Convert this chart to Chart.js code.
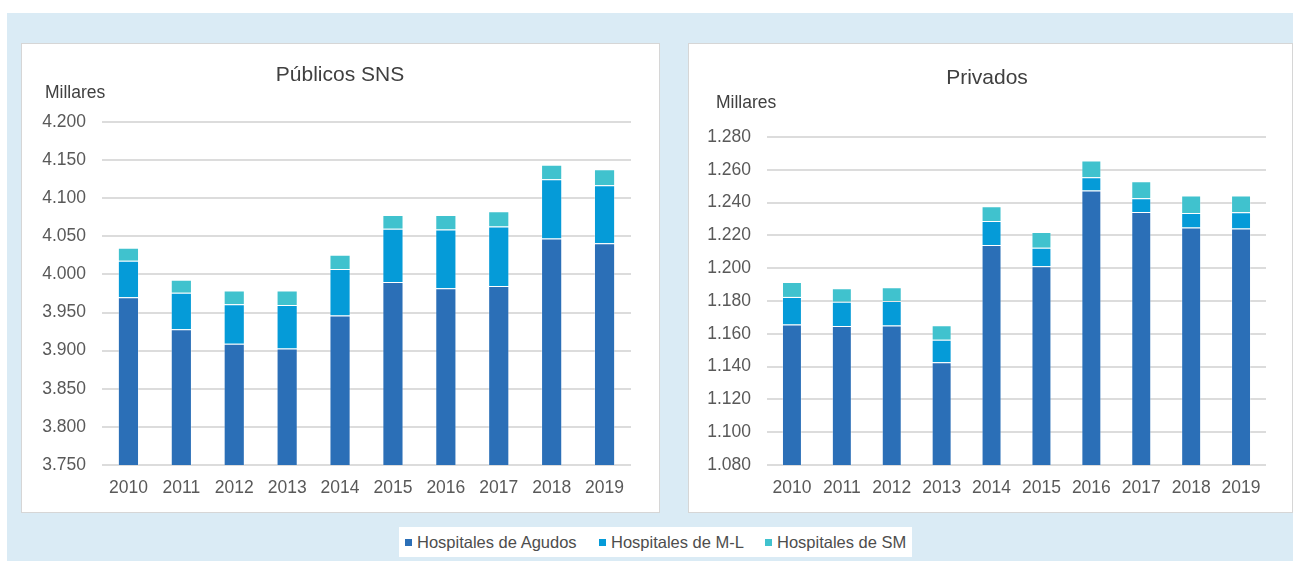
<!DOCTYPE html>
<html>
<head>
<meta charset="utf-8">
<script src="https://cdn.jsdelivr.net/npm/chart.js@4/dist/chart.umd.min.js"></script>
<style>
  html, body { margin: 0; padding: 0; background: #ffffff; }
  body { width: 1293px; height: 561px; position: relative; overflow: hidden; font-family: "Liberation Sans", Arial, sans-serif; }
  #bg { position: absolute; left: 7px; top: 13px; width: 1286px; height: 548px; background: #DAEBF5; }
  .panel { position: absolute; background: #ffffff; border: 1px solid #d6d6d6; box-sizing: border-box; }
  .panel canvas { position: absolute; left: 0; top: 0; }
  #legend { position: absolute; left: 399px; top: 527px; width: 513px; height: 30px; background: #ffffff; }
  .item { position: absolute; top: 0; height: 30px; display: flex; align-items: center; font-size: 16.5px; color: #4d4d4d; white-space: nowrap; }
  .box { width: 7px; height: 7px; margin-right: 5px; }
</style>
</head>
<body>
<div id="bg"></div>
<div class="panel" style="left:21px; top:43px; width:639px; height:470px;"><canvas id="c1" width="637" height="468" style="width:637px;height:468px"></canvas></div>
<div class="panel" style="left:688px; top:43px; width:605px; height:470px;"><canvas id="c2" width="603" height="468" style="width:603px;height:468px"></canvas></div>
<div id="legend"></div>
<script>
// ---- Data ----
const years = ['2010', '2011', '2012', '2013', '2014', '2015', '2016', '2017', '2018', '2019'];
const seriesNames = ['Hospitales de Agudos', 'Hospitales de M-L', 'Hospitales de SM'];
const seriesColors = ['#2B6FB7', '#059BD8', '#40C2CE'];

// Públicos SNS (millares)
const publicAgudos = [3970, 3928, 3909, 3903, 3946, 3990, 3982, 3985, 4047, 4041];
const publicML     = [48, 48, 52, 57, 61, 70, 77, 78, 78, 76];
const publicSM     = [17, 17, 18, 19, 19, 18, 19, 20, 19, 21];

// Privados (millares)
const privAgudos = [1165.7, 1164.8, 1165.0, 1142.6, 1214.2, 1201.2, 1247.4, 1234.2, 1224.8, 1224.2];
const privML     = [16.8, 14.7, 15.0, 13.7, 14.6, 11.3, 8.1, 8.5, 8.9, 9.9];
const privSM     = [9.1, 8.3, 8.4, 8.9, 9.0, 9.6, 10.2, 10.3, 10.6, 10.2];

// Axis settings
const publicAxis = { min: 3750, max: 4200, step: 50 };
const privAxis   = { min: 1080, max: 1280, step: 20 };
const titles = ['Públicos SNS', 'Privados'];
const unitLabel = 'Millares';

// ---- Rendering ----
const FONT = '"Liberation Sans", Arial, sans-serif';
const fmt = v => String(Math.round(v)).replace(/\B(?=(\d{3})+(?!\d))/g, '.');

const panelText = {
  id: 'panelText',
  afterDraw(chart, args, o) {
    const ctx = chart.ctx;
    ctx.save();
    ctx.fillStyle = '#404040';
    ctx.textBaseline = 'middle';
    ctx.textAlign = 'center';
    ctx.font = '21px ' + FONT;
    ctx.fillText(o.title, o.titleX, o.titleY);
    ctx.textAlign = 'left';
    ctx.font = '17.5px ' + FONT;
    ctx.fillText(o.unit, o.unitX, o.unitY);
    ctx.restore();
  }
};

function makeChart(id, data, axis, title, geo) {
  const datasets = data.map((d, i) => ({
    label: seriesNames[i],
    data: d,
    backgroundColor: seriesColors[i],
    borderColor: 'rgba(255,255,255,0.3)',
    borderWidth: 1,
    categoryPercentage: 1.0,
    barPercentage: 0.4
  }));
  return new Chart(document.getElementById(id), {
    type: 'bar',
    data: { labels: years, datasets },
    plugins: [panelText],
    options: {
      responsive: false,
      animation: false,
      layout: { padding: { top: geo.top, right: geo.right, left: 0, bottom: 0 } },
      plugins: {
        legend: { display: false },
        tooltip: { enabled: false },
        title: { display: false },
        panelText: { title, unit: unitLabel, titleX: geo.titleX, titleY: geo.titleY, unitX: geo.unitX, unitY: geo.unitY }
      },
      scales: {
        x: {
          stacked: true,
          offset: true,
          grid: { display: false },
          border: { display: false },
          ticks: { color: '#595959', font: { family: FONT, size: 17.5 }, padding: 5, maxRotation: 0 },
          afterFit: s => { s.height = geo.xh; }
        },
        y: {
          stacked: true,
          min: axis.min, max: axis.max,
          grid: { color: '#dcdcdc', lineWidth: 2, drawTicks: false },
          border: { display: false },
          ticks: { stepSize: axis.step, color: '#595959', font: { family: FONT, size: 17.5 }, padding: 16, callback: v => fmt(v) },
          afterFit: s => { s.width = geo.yw; }
        }
      }
    }
  });
}

makeChart('c1', [publicAgudos, publicML, publicSM], publicAxis, titles[0],
  { top: 78, right: 28, yw: 80, xh: 47, titleX: 318, titleY: 31, unitX: 23, unitY: 49 });
makeChart('c2', [privAgudos, privML, privSM], privAxis, titles[1],
  { top: 93, right: 26, yw: 78, xh: 47, titleX: 298, titleY: 34, unitX: 27, unitY: 59 });

// HTML legend
const legendX = [6, 200, 366];
const lg = document.getElementById('legend');
seriesNames.forEach((n, i) => {
  const it = document.createElement('div');
  it.className = 'item';
  it.style.left = legendX[i] + 'px';
  const b = document.createElement('span');
  b.className = 'box';
  b.style.background = seriesColors[i];
  const t = document.createElement('span');
  t.textContent = n;
  it.appendChild(b); it.appendChild(t);
  lg.appendChild(it);
});
</script>
</body>
</html>
